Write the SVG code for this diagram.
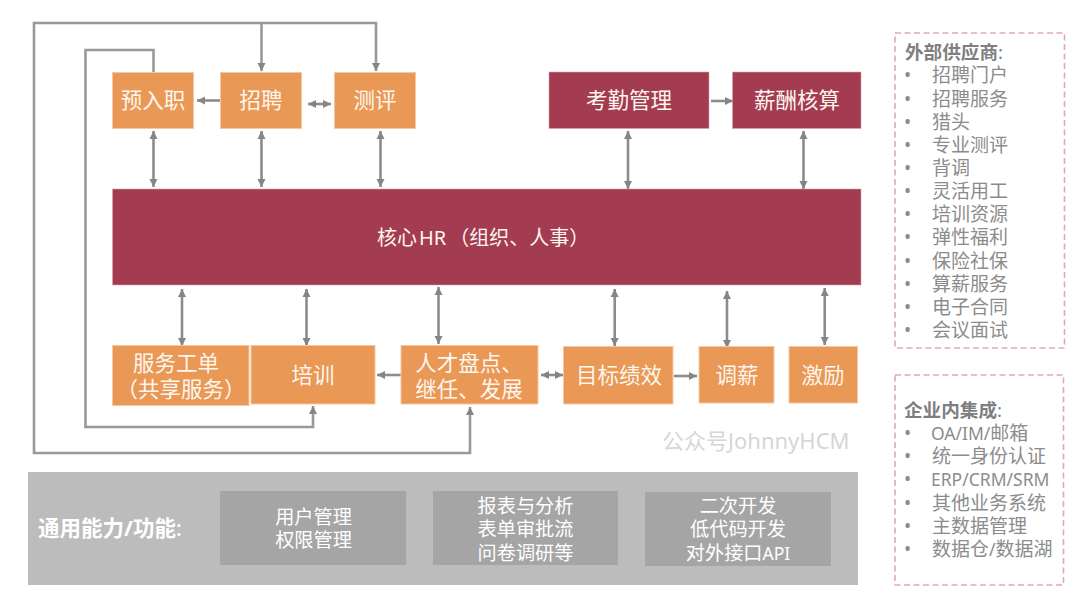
<svg xmlns="http://www.w3.org/2000/svg" width="1080" height="610" viewBox="0 0 1080 610">
<defs>
<style>
text{font-family:"Noto Sans","Noto Sans CJK SC",sans-serif}
.o{fill:#e99855;stroke:#f5c8a4;stroke-width:1}
.m{fill:#a33c51;stroke:#d9a3ae;stroke-width:.6}
.t{fill:#fdf6ef;font-size:21.5px;text-anchor:middle}
.g{fill:#a5a5a5}
.w{fill:#fff;font-size:19.2px;text-anchor:middle}
.c{fill:none;stroke:#8c8c8c;stroke-width:2.6}
.l{fill:none;stroke:#999;stroke-width:2.6}
.d{fill:none;stroke:#dfa9b8;stroke-width:1.6;stroke-dasharray:6 3.5}
.h{fill:#7f7f7f;font-size:18.6px;font-weight:700}
.i{fill:#8c8c8c;font-size:19px}
.n{font-size:17.5px}
</style>
<marker id="a" markerUnits="userSpaceOnUse" markerWidth="9" markerHeight="9" refX="8" refY="4.5" orient="auto-start-reverse"><path d="M0,0.5L8,4.5L0,8.5z" fill="#858585"/></marker>
</defs>
<g id="connectors">
<path class="l" d="M470,407V453H34V23H376V71" marker-start="url(#a)" marker-end="url(#a)"/>
<path class="l" d="M261.500,23V71" marker-end="url(#a)"/>
<path class="l" d="M153.500,72V50H85.500V427H313V406" marker-end="url(#a)"/>
<g class="c">
<path d="M220,100.500H197" marker-end="url(#a)"/>
<path d="M308,104H331" marker-start="url(#a)" marker-end="url(#a)"/>
<path d="M711,101H733" marker-end="url(#a)"/>
<path d="M401,375H377" marker-end="url(#a)"/>
<path d="M541,375H563" marker-start="url(#a)" marker-end="url(#a)"/>
<path d="M674,376H697" marker-end="url(#a)"/>
<path d="M153.500,131V187" marker-start="url(#a)" marker-end="url(#a)"/>
<path d="M261.500,131V187" marker-start="url(#a)" marker-end="url(#a)"/>
<path d="M380.500,131V187" marker-start="url(#a)" marker-end="url(#a)"/>
<path d="M628,131V189" marker-start="url(#a)" marker-end="url(#a)"/>
<path d="M803.500,131V189" marker-start="url(#a)" marker-end="url(#a)"/>
<path d="M182,289V346" marker-start="url(#a)" marker-end="url(#a)"/>
<path d="M306.500,289V346" marker-start="url(#a)" marker-end="url(#a)"/>
<path d="M438.500,287V344" marker-start="url(#a)" marker-end="url(#a)"/>
<path d="M614.700,289V346" marker-start="url(#a)" marker-end="url(#a)"/>
<path d="M727,291V348" marker-start="url(#a)" marker-end="url(#a)"/>
<path d="M824.700,288V345" marker-start="url(#a)" marker-end="url(#a)"/>
</g>
</g>
<g id="n-yrz"><rect class="o" x="112.500" y="72.500" width="81" height="56"/><text class="t" x="153" y="108">预入职</text></g>
<g id="n-zp"><rect class="o" x="220.500" y="72.500" width="81" height="56"/><text class="t" x="261" y="108">招聘</text></g>
<g id="n-cp"><rect class="o" x="334.500" y="72.500" width="81" height="56"/><text class="t" x="375" y="108">测评</text></g>
<g id="n-kq"><rect class="m" x="549" y="72" width="160" height="56.500"/><text class="t" x="629" y="108">考勤管理</text></g>
<g id="n-xc"><rect class="m" x="732.500" y="72" width="128.500" height="56.500"/><text class="t" x="797" y="108">薪酬核算</text></g>
<g id="n-core"><rect class="m" x="112.500" y="189" width="748.500" height="96"/><text class="t" x="377" y="245" style="font-size:20px;text-anchor:start">核心<tspan dx="2">HR</tspan><tspan dx="3">（组织、人事）</tspan></text></g>
<g id="n-fw"><rect class="o" x="112.500" y="345.500" width="136.500" height="60"/><text class="t" x="176" y="371">服务工单</text><text class="t" x="181" y="397">（共享服务）</text></g>
<g id="n-px"><rect class="o" x="251" y="345.500" width="124" height="58.500"/><text class="t" x="313" y="383">培训</text></g>
<g id="n-rc"><rect class="o" x="401" y="345.500" width="137" height="58.500"/><text class="t" x="469" y="371">人才盘点、</text><text class="t" x="469" y="397">继任、发展</text></g>
<g id="n-mb"><rect class="o" x="563.500" y="346.500" width="109.500" height="57.500"/><text class="t" x="619" y="383">目标绩效</text></g>
<g id="n-tx"><rect class="o" x="699" y="346.500" width="75" height="56.500"/><text class="t" x="737" y="383">调薪</text></g>
<g id="n-jl"><rect class="o" x="789" y="346.500" width="68.500" height="56.500"/><text class="t" x="823" y="383">激励</text></g>
<text x="662" y="449" fill="#d6d6d6" font-size="22">公众号JohnnyHCM</text>
<g id="n-common">
<rect x="28" y="472" width="830" height="113" fill="#bcbcbc"/>
<text x="38" y="536" fill="#fff" font-size="21.500" font-weight="700">通用能力/功能<tspan font-weight="400">:</tspan></text>
</g>
<g id="n-user"><rect class="g" x="220" y="491" width="186" height="74"/><text class="w" x="313.500" y="524">用户管理</text><text class="w" x="313.500" y="547">权限管理</text></g>
<g id="n-report"><rect class="g" x="433" y="491" width="185" height="74"/><text class="w" x="525.500" y="513">报表与分析</text><text class="w" x="525.500" y="536">表单审批流</text><text class="w" x="525.500" y="560">问卷调研等</text></g>
<g id="n-dev"><rect class="g" x="645" y="492" width="186" height="74"/><text class="w" x="738" y="513">二次开发</text><text class="w" x="738" y="536">低代码开发</text><text class="w" x="738" y="560">对外接口<tspan class="n">API</tspan></text></g>
<g id="n-ext">
<rect class="d" x="895" y="33" width="169.500" height="315"/>
<text class="h" x="905" y="59">外部供应商<tspan font-weight="400">:</tspan></text>
<g class="i">
<text x="904" y="82">•</text><text x="932" y="82">招聘门户</text>
<text x="904" y="105.500">•</text><text x="932" y="105.500">招聘服务</text>
<text x="904" y="129">•</text><text x="932" y="129">猎头</text>
<text x="904" y="152">•</text><text x="932" y="152">专业测评</text>
<text x="904" y="175">•</text><text x="932" y="175">背调</text>
<text x="904" y="198">•</text><text x="932" y="198">灵活用工</text>
<text x="904" y="221">•</text><text x="932" y="221">培训资源</text>
<text x="904" y="244">•</text><text x="932" y="244">弹性福利</text>
<text x="904" y="268">•</text><text x="932" y="268">保险社保</text>
<text x="904" y="291">•</text><text x="932" y="291">算薪服务</text>
<text x="904" y="314">•</text><text x="932" y="314">电子合同</text>
<text x="904" y="337">•</text><text x="932" y="337">会议面试</text>
</g>
</g>
<g id="n-int">
<rect class="d" x="895" y="375" width="168.500" height="210"/>
<text class="h" x="904" y="417">企业内集成<tspan font-weight="400">:</tspan></text>
<g class="i">
<text x="904" y="440">•</text><text x="931" y="440"><tspan class="n">OA/IM/</tspan>邮箱</text>
<text x="904" y="463">•</text><text x="932" y="463">统一身份认证</text>
<text x="904" y="486">•</text><text x="931" y="486" class="n">ERP/CRM/SRM</text>
<text x="904" y="510">•</text><text x="932" y="510">其他业务系统</text>
<text x="904" y="533">•</text><text x="932" y="533">主数据管理</text>
<text x="904" y="556">•</text><text x="932" y="556">数据仓<tspan class="n">/</tspan>数据湖</text>
</g>
</g>
</svg>
